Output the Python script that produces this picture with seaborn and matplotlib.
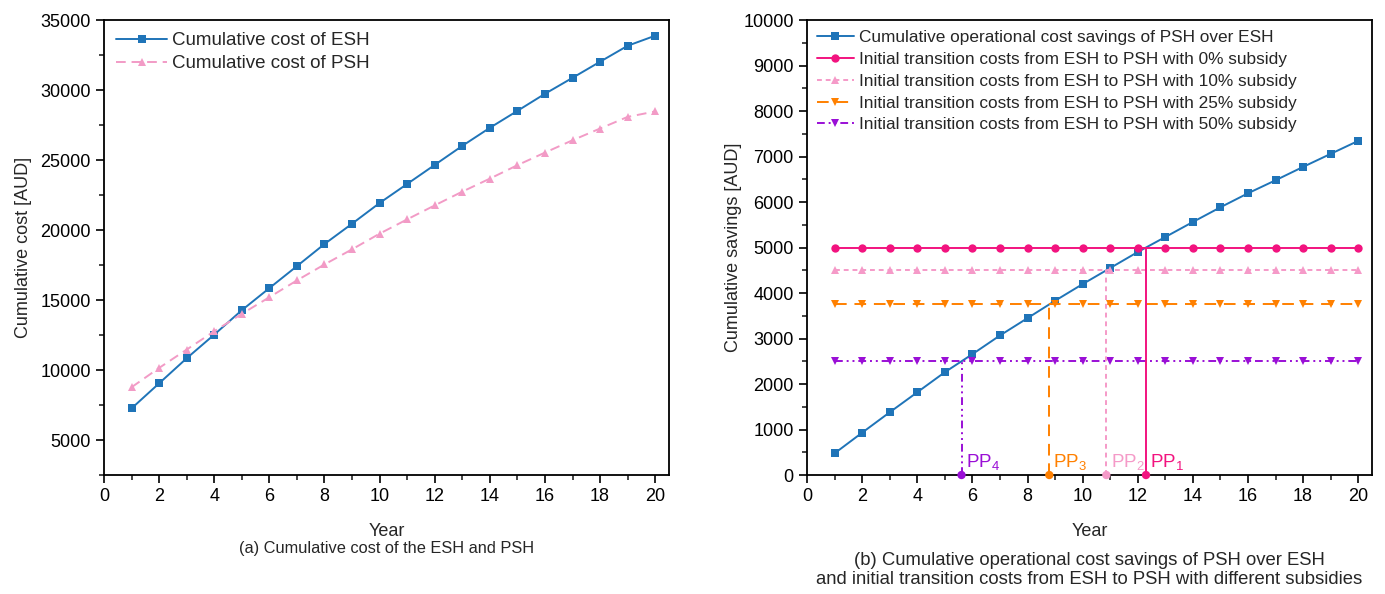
import numpy as np
import pandas as pd
import matplotlib
matplotlib.use("Agg")
import matplotlib.pyplot as plt
import seaborn as sns

## DATA
years = list(range(1, 21))

# (a) cumulative cost [AUD]
cost_esh = [7260, 9050, 10840, 12530, 14270, 15850, 17420, 19000, 20450, 21930,
            23290, 24650, 26010, 27300, 28510, 29730, 30870, 32020, 33160, 33880]
cost_psh = [8770, 10150, 11460, 12770, 14010, 15200, 16400, 17540, 18620, 19740,
            20760, 21760, 22740, 23670, 24630, 25530, 26410, 27250, 28080, 28470]

# (b) cumulative savings [AUD]
savings = [477, 931, 1379, 1819, 2260, 2656, 3067, 3448, 3830, 4196,
           4549, 4901, 5231, 5561, 5884, 6192, 6478, 6772, 7058, 7344]
subsidy_labels = ["0%", "10%", "25%", "50%"]
transition_costs = [5000, 4500, 3750, 2500]
pp_labels = [r"PP$_1$", r"PP$_2$", r"PP$_3$", r"PP$_4$"]

## STYLE
sns.set_style("ticks")
plt.rcParams['font.family'] = ['Liberation Sans', 'DejaVu Sans']
plt.rcParams['mathtext.default'] = 'regular'
plt.rcParams['xtick.direction'] = 'out'
plt.rcParams['ytick.direction'] = 'out'

blue = "#1F74B8"
psh_pink = "#F29BC6"
sub_colors = ["#F2137F", "#F59AC8", "#FF8000", "#9A0FD6"]
sub_markers = ["o", "^", "v", "v"]
sub_styles = ["-", (0, (2.5, 2)), (0, (6, 4)), (0, (4, 2, 1, 2, 1, 2))]

fig = plt.figure(figsize=(13.85, 5.94), dpi=100)
ax1 = fig.add_axes([0.0751, 0.2003, 0.4079, 0.7660])
ax2 = fig.add_axes([0.5827, 0.2003, 0.4079, 0.7660])

## (a)
sns.lineplot(x=years, y=cost_esh, ax=ax1, color=blue, marker="s", markersize=5.5,
             markeredgewidth=0, linewidth=1.4, label="Cumulative cost of ESH")
sns.lineplot(x=years, y=cost_psh, ax=ax1, color=psh_pink, marker="^", markersize=6,
             markeredgewidth=0, linewidth=1.4, linestyle=(0, (5, 3)),
             label="Cumulative cost of PSH")
ax1.set_xlim(0, 20.5)
ax1.set_ylim(2500, 35000)
ax1.set_xticks(range(0, 21, 2))
ax1.set_xticks(range(1, 21, 2), minor=True)
ax1.set_yticks(range(5000, 35001, 5000))
ax1.set_yticks(range(2500, 35001, 5000), minor=True)
ax1.set_xlabel("Year", fontsize=13, labelpad=13)
ax1.set_ylabel("Cumulative cost [AUD]", fontsize=13, labelpad=6)
ax1.legend(loc="upper left", frameon=False, fontsize=13.5, handlelength=2.7,
           handletextpad=0.3, labelspacing=0.32, borderaxespad=0.25)
ax1.text(0.5, -0.145, "(a) Cumulative cost of the ESH and PSH", transform=ax1.transAxes,
         ha="center", va="top", fontsize=11.8)

## (b)
sns.lineplot(x=years, y=savings, ax=ax2, color=blue, marker="s", markersize=5.5,
             markeredgewidth=0, linewidth=1.4,
             label="Cumulative operational cost savings of PSH over ESH")
for lab, cost, col, mk, ls in zip(subsidy_labels, transition_costs, sub_colors,
                                  sub_markers, sub_styles):
    sns.lineplot(x=years, y=[cost] * len(years), ax=ax2, color=col, marker=mk,
                 markersize=6, markeredgewidth=0, linewidth=1.4, linestyle=ls,
                 label=f"Initial transition costs from ESH to PSH with {lab} subsidy")

# payback points: where savings reach the transition cost
pp_x = [np.interp(c, savings, years) for c in transition_costs]
for x, cost, col, ls, lab in zip(pp_x, transition_costs, sub_colors, sub_styles, pp_labels):
    ax2.vlines(x, 0, cost, colors=col, linestyles=[ls], linewidth=1.4)
    ax2.annotate(lab, xy=(x, 0), xytext=(3, 2), textcoords="offset points",
                 color=col, fontsize=13.5, ha="left", va="bottom")
pp = pd.DataFrame({"x": pp_x, "y": [0] * 4, "c": pp_labels})
sns.scatterplot(data=pp, x="x", y="y", hue="c", palette=sub_colors, s=36,
                edgecolor="none", ax=ax2, legend=False, clip_on=False, zorder=5)

ax2.set_xlim(0, 20.5)
ax2.set_ylim(0, 10000)
ax2.set_xticks(range(0, 21, 2))
ax2.set_xticks(range(1, 21, 2), minor=True)
ax2.set_yticks(range(0, 10001, 1000))
ax2.set_yticks(range(500, 10001, 1000), minor=True)
ax2.set_xlabel("Year", fontsize=13, labelpad=13)
ax2.set_ylabel("Cumulative savings [AUD]", fontsize=13, labelpad=1)
ax2.legend(loc="upper left", frameon=False, fontsize=12.4, handlelength=2.1,
           handletextpad=0.3, labelspacing=0.39, borderaxespad=0.2)
ax2.text(0.5, -0.169, "(b) Cumulative operational cost savings of PSH over ESH\n"
         "and initial transition costs from ESH to PSH with different subsidies",
         transform=ax2.transAxes, ha="center", va="top", fontsize=13.3,
         linespacing=1.15)

for ax in (ax1, ax2):
    for s in ax.spines.values():
        s.set_visible(True)
        s.set_linewidth(1.3)
        s.set_color("black")
    ax.tick_params(which="major", length=6, width=1.2, labelsize=13, colors="black")
    ax.tick_params(which="minor", length=3.5, width=1.2)
    ax.tick_params(top=False, right=False, which="both")

fig.savefig("out.png", dpi=100)
